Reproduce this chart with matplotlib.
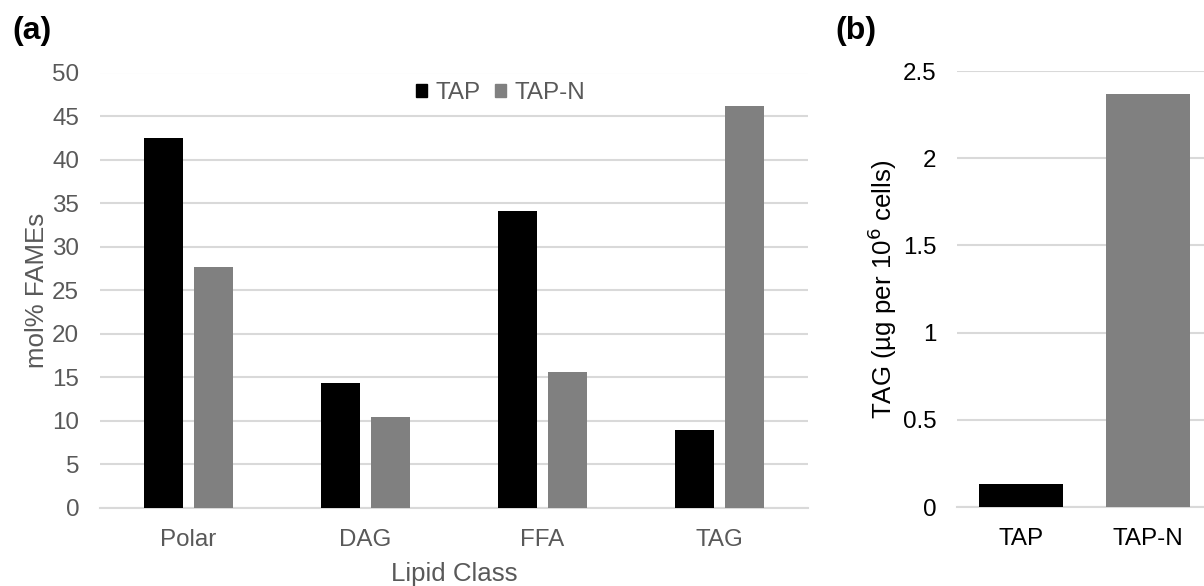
import matplotlib
matplotlib.use("Agg")
import matplotlib.pyplot as plt
from matplotlib.patches import Patch
import numpy as np

plt.rcParams['font.family'] = ['Liberation Sans', 'DejaVu Sans']

categories = ["Polar", "DAG", "FFA", "TAG"]
tap = [42.5, 14.3, 34.1, 8.9]
tap_n = [27.7, 10.4, 15.6, 46.1]
series_names = ["TAP", "TAP-N"]

b_categories = ["TAP", "TAP-N"]
b_values = [0.13, 2.37]

W, H = 1204, 586
fig = plt.figure(figsize=(W / 100, H / 100), dpi=100)

grid_c = "#d9d9d9"
txt_c = "#595959"
fs = 17.4
tfs = 18.6

def fx(px):
    return px / W

def fy(py):
    return 1 - py / H

# Panel (a)
axa = fig.add_axes([fx(100), fy(508), fx(808 - 100), (508 - 72.5) / H])
x = np.arange(len(categories))
bw = 0.22
off = 0.143
axa.bar(x - off, tap, bw, color="black", zorder=3, label=series_names[0])
axa.bar(x + off, tap_n, bw, color="#808080", zorder=3, label=series_names[1])
axa.set_xlim(-0.5, len(categories) - 0.5)
axa.set_ylim(0, 50)
axa.set_yticks(np.arange(0, 51, 5))
axa.set_xticks(x)
axa.set_xticklabels(categories)
axa.yaxis.grid(True, color=grid_c, linewidth=1.5, zorder=0)
for s in ["top", "right", "left"]:
    axa.spines[s].set_visible(False)
axa.spines["bottom"].set_color(grid_c)
axa.spines["bottom"].set_linewidth(1.5)
axa.tick_params(axis="both", length=0, labelsize=fs, colors=txt_c, pad=15)
axa.tick_params(axis="x", pad=15)
axa.set_ylabel("mol% FAMEs", fontsize=tfs, color=txt_c, labelpad=2.5)
axa.set_xlabel("Lipid Class", fontsize=tfs, color=txt_c, labelpad=8)
handles = [Patch(color="black"), Patch(color="#808080")]
axa.legend(handles, series_names, loc="center", bbox_to_anchor=(0.566, 0.953),
           ncol=2, frameon=False, fontsize=fs, handlelength=0.45, handleheight=0.45,
           handletextpad=0.35, columnspacing=0.6, labelcolor=txt_c, borderpad=0)

# Panel (b)
axb = fig.add_axes([fx(957), fy(507), fx(1212 - 957), (507 - 71) / H])
xb = np.arange(len(b_categories))
axb.bar(xb, b_values, 0.66, color=["black", "#808080"], zorder=3)
axb.set_xlim(-0.5, len(b_categories) - 0.5)
axb.set_ylim(0, 2.5)
axb.set_yticks([0, 0.5, 1, 1.5, 2, 2.5])
axb.set_yticklabels(["0", "0.5", "1", "1.5", "2", "2.5"])
axb.set_xticks(xb)
axb.set_xticklabels(b_categories)
axb.yaxis.grid(True, color=grid_c, linewidth=1.5, zorder=0)
for s in ["top", "right", "left"]:
    axb.spines[s].set_visible(False)
axb.spines["bottom"].set_color(grid_c)
axb.spines["bottom"].set_linewidth(1.5)
axb.tick_params(axis="both", length=0, labelsize=fs, colors="black", pad=15)
axb.tick_params(axis="x", pad=15)
axb.set_ylabel("TAG (µg per 10$^6$ cells)", fontsize=tfs, color="black", labelpad=2.5)

fig.text(fx(12), fy(31), "(a)", fontsize=23, fontweight="bold", va="center", ha="left")
fig.text(fx(835), fy(31), "(b)", fontsize=23, fontweight="bold", va="center", ha="left")

fig.savefig("out.png", dpi=100)
